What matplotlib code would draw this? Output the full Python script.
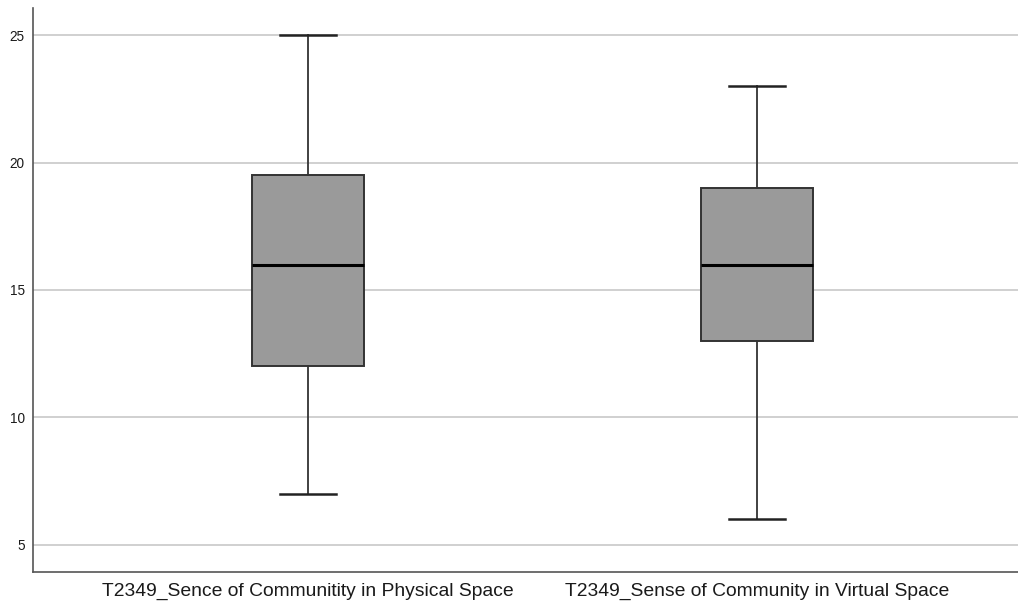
import matplotlib
matplotlib.use("Agg")
import matplotlib.pyplot as plt

plt.rcParams['font.family'] = ['Liberation Sans', 'DejaVu Sans']

labels = ["T2349_Sence of Communitity in Physical Space",
          "T2349_Sense of Community in Virtual Space"]
whisker_low = [7, 6]
q1 = [12, 13]
median = [16, 16]
q3 = [19.5, 19]
whisker_high = [25, 23]
yticks = [5, 10, 15, 20, 25]

stats = []
for i, lab in enumerate(labels):
    stats.append(dict(label=lab, whislo=whisker_low[i], q1=q1[i], med=median[i],
                      q3=q3[i], whishi=whisker_high[i], fliers=[]))

fig = plt.figure(figsize=(10.18, 6.04), dpi=100)
ax = fig.add_axes([33 / 1018, 1 - 572 / 604, 985 / 1018, 564 / 604])

for y in yticks:
    ax.axhline(y, color='#c8c8c8', linewidth=1.2, zorder=0)

ax.bxp(stats, positions=[1, 2], widths=0.25, patch_artist=True, showfliers=False,
       boxprops=dict(facecolor='#9a9a9a', edgecolor='#333333', linewidth=1.4),
       medianprops=dict(color='black', linewidth=2.2),
       whiskerprops=dict(color='#333333', linewidth=1.3),
       capprops=dict(color='#222222', linewidth=1.8),
       capwidths=0.125)

ax.set_xlim(0.3875, 2.581)
ax.set_ylim(3.94, 26.06)
ax.set_yticks(yticks)
ax.set_yticklabels([str(v) for v in yticks], fontsize=9.8, color='#1a1a1a')
ax.set_xticks([1, 2])
ax.set_xticklabels(labels, fontsize=13.9, color='#1a1a1a')
ax.tick_params(axis='both', length=0, pad=6)
ax.tick_params(axis='x', pad=8)

for side in ['top', 'right']:
    ax.spines[side].set_visible(False)
for side in ['left', 'bottom']:
    ax.spines[side].set_color('#555555')
    ax.spines[side].set_linewidth(1.2)

fig.savefig("out.png", dpi=100)
